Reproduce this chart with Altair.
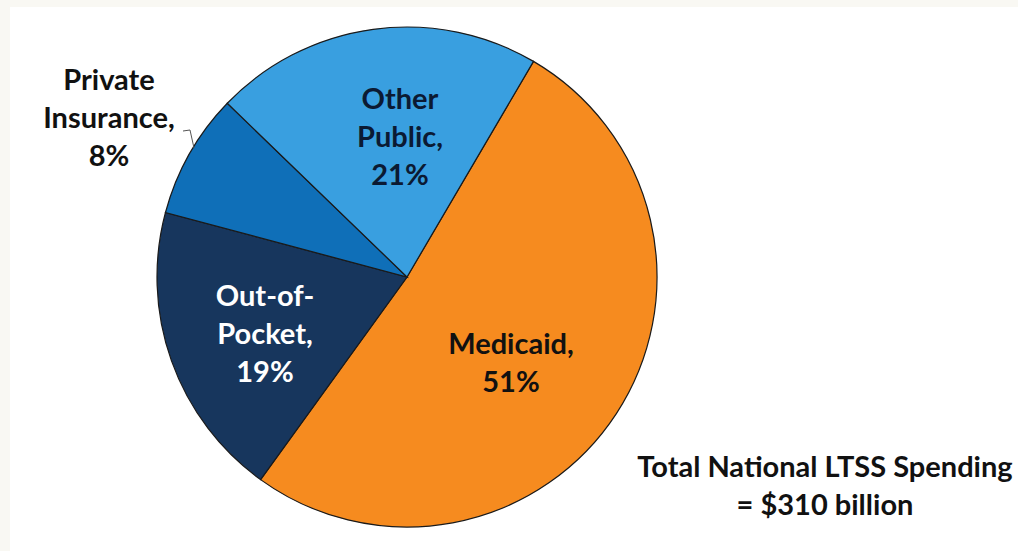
import altair as alt
import pandas as pd
import math

categories = ["Medicaid", "Out-of-Pocket", "Private Insurance", "Other Public"]
shares = [51, 19, 8, 21]
labels = [["Medicaid,", "51%"], ["Out-of-", "Pocket,", "19%"],
          ["Private", "Insurance,", "8%"], ["Other", "Public,", "21%"]]
colors = ["#F68B1F", "#17365D", "#0F6FB8", "#399FE0"]
text_colors = ["#111111", "#FFFFFF", "#111111", "#0B1A33"]
order = [0, 1, 2, 3]

df = pd.DataFrame({"cat": categories, "share": shares,
                   "ord": order, "tcol": text_colors})

# layout (page pixels), offset by padding
PL, PT = 10, 7
CX, CY, R = 407 - PL, 277 - PT, 250
FONT = "Lato"
FS, LH = 29, 38

start = math.radians(30.4)
theta_scale = alt.Scale(range=[start, start + 2 * math.pi])

pie = alt.Chart(df).mark_arc(outerRadius=R, stroke="#1a1a1a", strokeWidth=1.2).encode(
    theta=alt.Theta("share:Q", stack=True, scale=theta_scale),
    order=alt.Order("ord:Q"),
    x=alt.value(CX), y=alt.value(CY),
    color=alt.Color("cat:N", scale=alt.Scale(domain=categories, range=colors), legend=None),
)

# first-line centre of each label
label_pos = {"Medicaid": (511, 345), "Out-of-Pocket": (265, 297),
             "Private Insurance": (109, 81), "Other Public": (400, 100)}

layers = [pie]
for i, cat in enumerate(categories):
    px, py = label_pos[cat]
    layers.append(
        alt.Chart(df).transform_filter(alt.datum.cat == cat).mark_text(
            font=FONT, fontSize=FS, fontWeight="bold", lineHeight=LH,
            align="center", baseline="middle", color=text_colors[i],
        ).encode(x=alt.value(px - PL), y=alt.value(py - PT), text=alt.value(labels[i]))
    )

lead_pts = [(183, 131, 190, 130), (190, 130, 194, 148)]
for x1, y1, x2, y2 in lead_pts:
    layers.append(
        alt.Chart(df).transform_filter(alt.datum.cat == "Private Insurance").mark_rule(
            color="#555555", strokeWidth=1
        ).encode(x=alt.value(x1 - PL), x2=alt.value(x2 - PL),
                 y=alt.value(y1 - PT), y2=alt.value(y2 - PT))
    )

layers.append(
    alt.Chart(df).transform_filter(alt.datum.cat == "Medicaid").mark_text(
        font=FONT, fontSize=FS, fontWeight="bold", lineHeight=LH,
        align="center", baseline="middle", color="#111111",
    ).encode(x=alt.value(825 - PL), y=alt.value(468 - PT),
             text=alt.value(["Total National LTSS Spending", "= $310 billion"]))
)

chart = alt.layer(*layers).properties(
    width=1018 - PL, height=551 - PT,
    autosize=alt.AutoSizeParams(type="none"),
    padding={"left": PL, "top": PT, "right": 0, "bottom": 0},
    background="#F9F8F3",
).configure_view(stroke=None, fill="#FFFFFF")

chart.save("out.html", embed_options={"renderer": "svg", "actions": False})
